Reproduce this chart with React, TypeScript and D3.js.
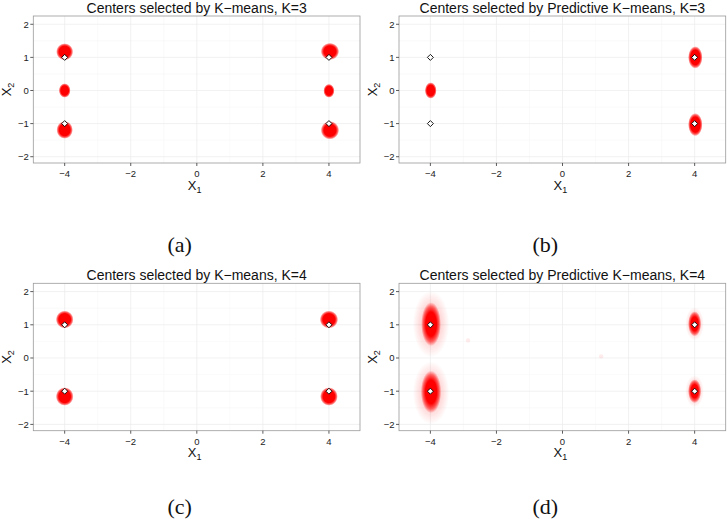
import React from "react";
import * as d3 from "d3";

// ---- data ----
const xTicks = [-4, -2, 0, 2, 4];
const xMinor = [-3, -1, 1, 3];
const yTicks = [-2, -1, 0, 1, 2];
const yMinor = [-1.5, -0.5, 0.5, 1.5];
const xDomain = [-4.95, 4.94];
const yDomain = [-2.19, 2.25];

const titles = [
  "Centers selected by K\u2212means, K=3",
  "Centers selected by Predictive K\u2212means, K=3",
  "Centers selected by K\u2212means, K=4",
  "Centers selected by Predictive K\u2212means, K=4",
];
const captions = ["(a)", "(b)", "(c)", "(d)"];

// true cluster centres (white diamonds)
const trueCentersX = [-4, -4, 4, 4];
const trueCentersY = [1, -1, 1, -1];

// clouds of selected centres: [x, y, spreadX, spreadY] (data units)
const cloudsKmeansK3: [number, number, number, number][] = [
  [-4.0, 1.17, 0.26, 0.26],
  [-4.0, 0.0, 0.18, 0.22],
  [-4.0, -1.19, 0.25, 0.27],
  [4.03, 1.18, 0.28, 0.26],
  [4.0, -0.01, 0.17, 0.21],
  [4.03, -1.2, 0.28, 0.28],
];
const cloudsPredK3: [number, number, number, number][] = [
  [-3.99, 0.0, 0.18, 0.25],
  [4.02, 1.0, 0.22, 0.34],
  [4.02, -1.03, 0.22, 0.35],
];
const cloudsKmeansK4: [number, number, number, number][] = [
  [-4.0, 1.16, 0.27, 0.27],
  [-4.0, -1.16, 0.27, 0.28],
  [4.0, 1.16, 0.28, 0.27],
  [4.0, -1.16, 0.27, 0.28],
];
const cloudsPredK4: [number, number, number, number][] = [
  [-3.98, 1.02, 0.3, 0.66],
  [-3.98, -1.02, 0.31, 0.64],
  [4.0, 1.03, 0.2, 0.38],
  [4.0, -1.0, 0.2, 0.36],
];
const halosPredK4: [number, number, number, number][] = [
  [-3.98, 1.02, 0.55, 1.0],
  [-3.98, -1.05, 0.55, 0.95],
  [4.0, 1.03, 0.28, 0.5],
  [4.0, -1.0, 0.28, 0.48],
];
const straysPredK4: [number, number][] = [
  [-2.86, 0.53],
  [1.17, 0.05],
];

const panelClouds = [cloudsKmeansK3, cloudsPredK3, cloudsKmeansK4, cloudsPredK4];
const panelHalos = [[], [], [], halosPredK4];
const panelStrays = [[], [], [], straysPredK4];

// ---- layout ----
const W = 727;
const H = 519;
const boxes = [
  { l: 33.3, r: 360, t: 16, b: 163 },
  { l: 399, r: 725.7, t: 16, b: 163 },
  { l: 33.3, r: 360, t: 283.3, b: 430.7 },
  { l: 399, r: 725.7, t: 283.3, b: 430.7 },
];
const captionY = [251.5, 251.5, 513.5, 513.5];
const SANS = "'Liberation Sans', Arial, Helvetica, sans-serif";

function Panel({ i }: { i: number }) {
  const bx = boxes[i];
  const x = d3.scaleLinear().domain(xDomain).range([bx.l, bx.r]);
  const y = d3.scaleLinear().domain(yDomain).range([bx.b, bx.t]);
  const cx = (bx.l + bx.r) / 2;
  const cy = (bx.t + bx.b) / 2;
  const clipId = `clip${i}`;
  const s = 3;
  return (
    <g>
      <defs>
        <clipPath id={clipId}>
          <rect x={bx.l} y={bx.t} width={bx.r - bx.l} height={bx.b - bx.t} />
        </clipPath>
      </defs>
      <rect x={bx.l} y={bx.t} width={bx.r - bx.l} height={bx.b - bx.t} fill="#fff" />
      {xMinor.map((v) => (
        <line key={"xm" + v} x1={x(v)} x2={x(v)} y1={bx.t} y2={bx.b} stroke="#f6f6f6" strokeWidth={0.6} />
      ))}
      {yMinor.map((v) => (
        <line key={"ym" + v} x1={bx.l} x2={bx.r} y1={y(v)} y2={y(v)} stroke="#f6f6f6" strokeWidth={0.6} />
      ))}
      {xTicks.map((v) => (
        <line key={"xg" + v} x1={x(v)} x2={x(v)} y1={bx.t} y2={bx.b} stroke="#ebebeb" strokeWidth={0.7} />
      ))}
      {yTicks.map((v) => (
        <line key={"yg" + v} x1={bx.l} x2={bx.r} y1={y(v)} y2={y(v)} stroke="#ebebeb" strokeWidth={0.7} />
      ))}
      <g clipPath={`url(#${clipId})`}>
        {panelHalos[i].map((c, k) => (
          <ellipse
            key={"h" + k}
            cx={x(c[0])}
            cy={y(c[1])}
            rx={x(c[2]) - x(0)}
            ry={y(0) - y(c[3])}
            fill="url(#haloGrad)"
          />
        ))}
        {panelClouds[i].map((c, k) => (
          <ellipse
            key={"c" + k}
            cx={x(c[0])}
            cy={y(c[1])}
            rx={x(c[2]) - x(0)}
            ry={y(0) - y(c[3])}
            fill={i === 3 ? "url(#looseGrad)" : "url(#blobGrad)"}
          />
        ))}
        {panelStrays[i].map((p, k) => (
          <circle key={"s" + k} cx={x(p[0])} cy={y(p[1])} r={2.2} fill="#ff0000" opacity={0.08} />
        ))}
        {trueCentersX.map((v, k) => {
          const px = x(v);
          const py = y(trueCentersY[k]);
          return (
            <path
              key={"d" + k}
              d={`M${px},${py - s}L${px + s},${py}L${px},${py + s}L${px - s},${py}Z`}
              fill="#fff"
              stroke="#000"
              strokeWidth={0.9}
            />
          );
        })}
      </g>
      <rect x={bx.l} y={bx.t} width={bx.r - bx.l} height={bx.b - bx.t} fill="none" stroke="#9a9a9a" strokeWidth={0.8} />
      {xTicks.map((v) => (
        <g key={"xt" + v}>
          <line x1={x(v)} x2={x(v)} y1={bx.b} y2={bx.b + 3} stroke="#333" strokeWidth={0.8} />
          <text x={x(v)} y={bx.b + 14} textAnchor="middle" fontSize={9.5} fontFamily={SANS} fill="#222">
            {v < 0 ? "\u2212" + Math.abs(v) : String(v)}
          </text>
        </g>
      ))}
      {yTicks.map((v) => (
        <g key={"yt" + v}>
          <line x1={bx.l - 3} x2={bx.l} y1={y(v)} y2={y(v)} stroke="#333" strokeWidth={0.8} />
          <text x={bx.l - 4.5} y={y(v) + 3.4} textAnchor="end" fontSize={9.5} fontFamily={SANS} fill="#222">
            {v < 0 ? "\u2212" + Math.abs(v) : String(v)}
          </text>
        </g>
      ))}
      <text x={cx} y={bx.t - 3.5} textAnchor="middle" fontSize={14} fontFamily={SANS} fill="#111">
        {titles[i]}
      </text>
      <text x={cx - 2} y={bx.b + 26.5} textAnchor="middle" fontSize={13} fontFamily={SANS} fill="#111">
        X<tspan fontSize={9} dy={3}>1</tspan>
      </text>
      <text
        transform={`translate(${bx.l - 22.5},${cy}) rotate(-90)`}
        textAnchor="middle"
        fontSize={13}
        fontFamily={SANS}
        fill="#111"
      >
        X<tspan fontSize={9} dy={3}>2</tspan>
      </text>
      <text
        x={cx - 17}
        y={captionY[i]}
        textAnchor="middle"
        fontSize={22}
        fontFamily="'Liberation Serif', 'DejaVu Serif', serif"
        fill="#111"
      >
        {captions[i]}
      </text>
    </g>
  );
}

export default function App() {
  return (
    <svg
      width={W}
      height={H}
      viewBox={`0 0 ${W} ${H}`}
      style={{ position: "absolute", left: 0, top: 0, background: "#fff" }}
    >
      <defs>
        <radialGradient id="blobGrad" cx="50%" cy="50%" r="50%">
          <stop offset="0%" stopColor="#ff0000" stopOpacity={1} />
          <stop offset="66%" stopColor="#ff0000" stopOpacity={1} />
          <stop offset="84%" stopColor="#ff0000" stopOpacity={0.6} />
          <stop offset="100%" stopColor="#ff0000" stopOpacity={0} />
        </radialGradient>
        <radialGradient id="looseGrad" cx="50%" cy="50%" r="50%">
          <stop offset="0%" stopColor="#ff0000" stopOpacity={1} />
          <stop offset="55%" stopColor="#ff0000" stopOpacity={1} />
          <stop offset="80%" stopColor="#ff0000" stopOpacity={0.55} />
          <stop offset="100%" stopColor="#ff0000" stopOpacity={0} />
        </radialGradient>
        <radialGradient id="haloGrad" cx="50%" cy="50%" r="50%">
          <stop offset="0%" stopColor="#ff0000" stopOpacity={0.3} />
          <stop offset="60%" stopColor="#ff0000" stopOpacity={0.14} />
          <stop offset="100%" stopColor="#ff0000" stopOpacity={0} />
        </radialGradient>
      </defs>
      <rect width={W} height={H} fill="#fff" />
      {[0, 1, 2, 3].map((i) => (
        <Panel key={i} i={i} />
      ))}
    </svg>
  );
}
